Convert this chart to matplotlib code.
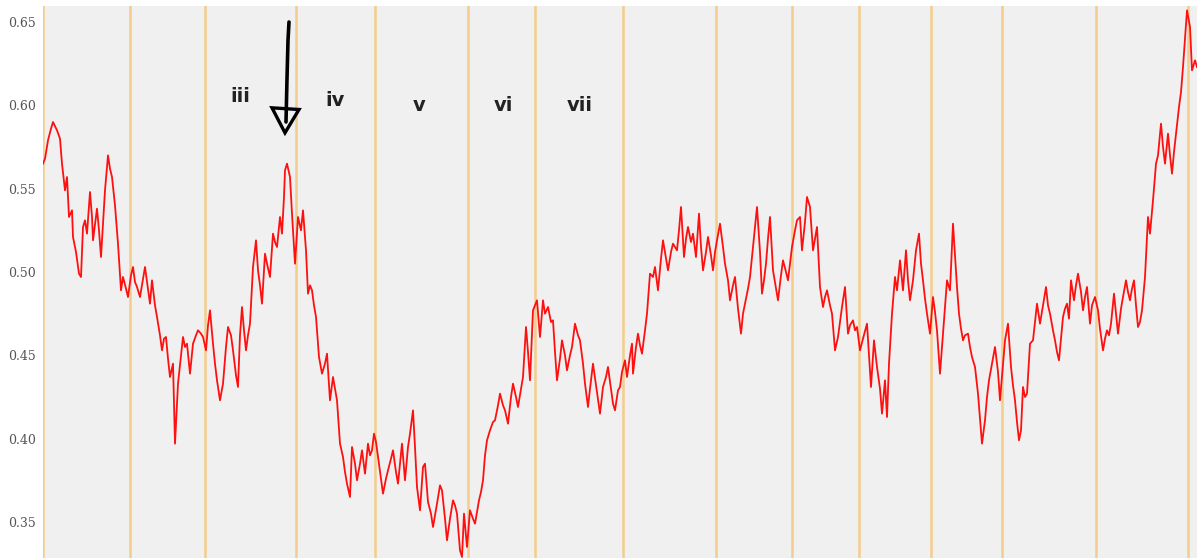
import matplotlib
matplotlib.use("Agg")
import matplotlib.pyplot as plt
from matplotlib.patches import Polygon

# sample index and ratio values
t = [43, 45, 48, 51, 53, 57, 60, 62, 65, 67, 69, 72, 73, 76, 79, 81, 83, 85, 87, 90,
     92, 93, 97, 99, 101, 105, 108, 110, 112, 115, 117, 118, 121, 123, 126, 128, 131, 133, 135, 137,
     140, 143, 145, 148, 150, 152, 155, 157, 160, 162, 164, 166, 168, 170, 173, 175, 178, 181, 183, 185,
     187, 190, 193, 196, 198, 201, 203, 206, 208, 210, 213, 215, 217, 220, 223, 226, 228, 231, 233, 236,
     238, 240, 242, 244, 246, 248, 250, 253, 256, 258, 260, 262, 265, 267, 270, 273, 275, 277, 280, 282,
     284, 285, 287, 290, 292, 295, 298, 301, 303, 306, 308, 310, 312, 314, 316, 319, 322, 325, 327, 330,
     333, 335, 337, 340, 343, 345, 347, 350, 352, 355, 357, 360, 362, 365, 368, 370, 372, 374, 376, 378,
     381, 383, 386, 388, 391, 393, 396, 398, 400, 402, 405, 408, 410, 413, 415, 417, 420, 423, 425, 428,
     431, 433, 437, 440, 442, 445, 447, 450, 453, 455, 457, 460, 462, 464, 467, 470, 473, 475, 479, 481,
     483, 485, 487, 490, 493, 495, 498, 500, 503, 505, 508, 511, 513, 516, 518, 521, 523, 526, 528, 530,
     533, 535, 537, 540, 543, 545, 548, 551, 553, 555, 557, 560, 562, 565, 567, 570, 572, 575, 578, 580,
     583, 585, 588, 590, 593, 597, 600, 603, 606, 608, 611, 613, 615, 618, 620, 622, 625, 627, 630, 632,
     633, 636, 638, 640, 642, 645, 647, 650, 653, 655, 658, 661, 663, 666, 668, 671, 673, 677, 679, 681,
     684, 686, 688, 691, 693, 696, 699, 701, 703, 706, 708, 711, 713, 715, 717, 720, 723, 725, 728, 730,
     733, 735, 738, 741, 743, 745, 748, 750, 753, 757, 760, 762, 764, 766, 768, 770, 773, 776, 778, 781,
     783, 786, 788, 790, 792, 795, 797, 800, 802, 805, 807, 810, 813, 815, 817, 820, 823, 825, 827, 830,
     832, 835, 838, 840, 842, 845, 848, 850, 853, 855, 857, 860, 863, 867, 869, 871, 874, 877, 880, 882,
     885, 887, 889, 892, 895, 897, 900, 903, 906, 908, 910, 913, 916, 919, 921, 923, 925, 927, 930, 933,
     935, 937, 940, 942, 944, 947, 950, 953, 955, 957, 959, 961, 963, 965, 968, 970, 972, 975, 978, 980,
     982, 985, 987, 989, 992, 995, 998, 1000, 1003, 1005, 1008, 1011, 1013, 1015, 1017, 1019, 1021, 1023, 1025, 1027,
     1030, 1033, 1035, 1037, 1040, 1043, 1046, 1048, 1050, 1053, 1055, 1057, 1059, 1061, 1063, 1065, 1067, 1069, 1071, 1074,
     1076, 1078, 1081, 1083, 1085, 1087, 1090, 1092, 1095, 1098, 1100, 1103, 1105, 1107, 1109, 1111, 1114, 1116, 1118, 1121,
     1123, 1126, 1128, 1130, 1132, 1134, 1136, 1138, 1140, 1142, 1145, 1148, 1150, 1153, 1156, 1158, 1161, 1163, 1165, 1168,
     1170, 1172, 1174, 1176, 1179, 1181, 1183, 1185, 1187, 1190, 1192, 1195, 1197]

ratio = [0.565, 0.568, 0.579, 0.586, 0.590, 0.585, 0.580, 0.565, 0.549, 0.557, 0.533, 0.537, 0.521, 0.512, 0.499, 0.497, 0.527, 0.531, 0.523, 0.548,
         0.533, 0.519, 0.538, 0.525, 0.509, 0.549, 0.570, 0.562, 0.557, 0.540, 0.525, 0.517, 0.489, 0.497, 0.490, 0.485, 0.498, 0.503, 0.494, 0.491,
         0.485, 0.496, 0.503, 0.490, 0.481, 0.495, 0.480, 0.473, 0.462, 0.453, 0.460, 0.461, 0.448, 0.437, 0.445, 0.397, 0.433, 0.450, 0.461, 0.455,
         0.457, 0.439, 0.457, 0.462, 0.465, 0.463, 0.461, 0.453, 0.468, 0.477, 0.457, 0.445, 0.435, 0.423, 0.433, 0.455, 0.467, 0.462, 0.453, 0.438,
         0.431, 0.462, 0.479, 0.465, 0.453, 0.462, 0.469, 0.503, 0.519, 0.501, 0.492, 0.481, 0.511, 0.505, 0.497, 0.523, 0.518, 0.515, 0.533, 0.523,
         0.545, 0.561, 0.565, 0.557, 0.535, 0.505, 0.533, 0.525, 0.537, 0.513, 0.487, 0.492, 0.489, 0.480, 0.473, 0.449, 0.439, 0.445, 0.451, 0.423,
         0.437, 0.430, 0.423, 0.397, 0.389, 0.380, 0.373, 0.365, 0.395, 0.385, 0.375, 0.385, 0.393, 0.379, 0.397, 0.390, 0.393, 0.403, 0.398, 0.389,
         0.375, 0.367, 0.376, 0.381, 0.388, 0.393, 0.380, 0.373, 0.385, 0.397, 0.375, 0.395, 0.403, 0.417, 0.395, 0.371, 0.357, 0.383, 0.385, 0.362,
         0.355, 0.347, 0.361, 0.372, 0.369, 0.352, 0.339, 0.352, 0.363, 0.360, 0.355, 0.333, 0.329, 0.355, 0.335, 0.357, 0.352, 0.349, 0.363, 0.368,
         0.375, 0.390, 0.399, 0.405, 0.410, 0.411, 0.420, 0.427, 0.420, 0.417, 0.409, 0.425, 0.433, 0.425, 0.419, 0.430, 0.437, 0.467, 0.452, 0.435,
         0.477, 0.480, 0.483, 0.461, 0.483, 0.475, 0.479, 0.470, 0.471, 0.452, 0.435, 0.448, 0.459, 0.450, 0.441, 0.450, 0.455, 0.469, 0.462, 0.459,
         0.445, 0.433, 0.419, 0.430, 0.445, 0.428, 0.415, 0.431, 0.437, 0.443, 0.430, 0.421, 0.417, 0.429, 0.431, 0.440, 0.447, 0.437, 0.450, 0.457,
         0.439, 0.455, 0.463, 0.456, 0.451, 0.465, 0.475, 0.499, 0.497, 0.503, 0.489, 0.508, 0.519, 0.508, 0.501, 0.512, 0.517, 0.513, 0.525, 0.539,
         0.509, 0.520, 0.527, 0.518, 0.523, 0.509, 0.535, 0.515, 0.501, 0.512, 0.521, 0.510, 0.501, 0.512, 0.519, 0.529, 0.515, 0.505, 0.495, 0.483,
         0.492, 0.497, 0.478, 0.463, 0.475, 0.481, 0.490, 0.497, 0.515, 0.539, 0.512, 0.487, 0.495, 0.505, 0.520, 0.533, 0.501, 0.490, 0.483, 0.498,
         0.507, 0.500, 0.495, 0.505, 0.515, 0.525, 0.531, 0.533, 0.513, 0.530, 0.545, 0.539, 0.513, 0.520, 0.527, 0.491, 0.479, 0.485, 0.489, 0.480,
         0.475, 0.453, 0.461, 0.470, 0.479, 0.491, 0.463, 0.468, 0.471, 0.465, 0.467, 0.453, 0.460, 0.469, 0.450, 0.431, 0.459, 0.443, 0.430, 0.415,
         0.435, 0.413, 0.445, 0.475, 0.497, 0.489, 0.507, 0.489, 0.513, 0.495, 0.483, 0.495, 0.513, 0.523, 0.505, 0.495, 0.484, 0.475, 0.463, 0.485,
         0.476, 0.465, 0.439, 0.455, 0.471, 0.495, 0.489, 0.529, 0.510, 0.491, 0.475, 0.466, 0.459, 0.462, 0.463, 0.455, 0.449, 0.443, 0.427, 0.412,
         0.397, 0.411, 0.425, 0.435, 0.445, 0.455, 0.440, 0.423, 0.445, 0.459, 0.469, 0.443, 0.432, 0.423, 0.410, 0.399, 0.405, 0.431, 0.425, 0.427,
         0.457, 0.459, 0.470, 0.481, 0.469, 0.480, 0.491, 0.480, 0.475, 0.465, 0.459, 0.452, 0.447, 0.460, 0.473, 0.478, 0.481, 0.472, 0.495, 0.483,
         0.492, 0.499, 0.488, 0.477, 0.485, 0.491, 0.469, 0.480, 0.485, 0.477, 0.466, 0.453, 0.460, 0.465, 0.462, 0.469, 0.487, 0.475, 0.463, 0.478,
         0.485, 0.495, 0.488, 0.483, 0.490, 0.495, 0.480, 0.467, 0.470, 0.477, 0.497, 0.533, 0.523, 0.543, 0.565, 0.570, 0.589, 0.575, 0.565, 0.583,
         0.570, 0.559, 0.572, 0.583, 0.599, 0.608, 0.623, 0.640, 0.657, 0.647, 0.621, 0.627, 0.623]

# session boundaries
sessions = [43, 130, 205, 296, 375, 468, 535, 623, 716, 792, 859, 931, 1002, 1096, 1188]

# wave labels
wave_labels = ["iii", "iv", "v", "vi", "vii"]
wave_x = [240, 335, 419, 503, 580]
wave_y = [0.605, 0.603, 0.600, 0.600, 0.600]

yticks = [0.35, 0.40, 0.45, 0.50, 0.55, 0.60, 0.65]

fig = plt.figure(figsize=(11.97, 5.58), dpi=100)
ax = fig.add_axes([43 / 1197, 0, 1 - 43 / 1197, 552 / 558])
ax.set_facecolor("#f0f0f0")

for s in sessions:
    ax.axvline(s, color="#f4cd8c", lw=1.8, zorder=1)

ax.plot(t, ratio, color="#ff1010", lw=1.3, zorder=3)

for lab, x, y in zip(wave_labels, wave_x, wave_y):
    ax.text(x, y, lab, fontsize=14, fontweight="bold", color="#222222",
            ha="center", va="center", zorder=4)

# hand-drawn arrow pointing at the wave iii top
window = [i for i in range(len(t)) if 260 <= t[i] <= 300]
peak = max(window, key=lambda i: ratio[i])
px, py = t[peak] - 1, ratio[peak]
ax.plot([px + 3, px + 2, px + 1, px], [0.650, 0.639, 0.616, py + 0.025],
        color="black", lw=2.6, solid_capstyle="round", zorder=5)
head = Polygon([[px - 14, py + 0.0335], [px + 13, py + 0.0325], [px - 1, py + 0.0185]],
               closed=True, fill=False, edgecolor="black", lw=2.4, zorder=5)
ax.add_patch(head)

ax.set_xlim(43, 1197)
ax.set_ylim(0.3284, 0.6596)
ax.set_xticks([])
ax.set_yticks(yticks)
ax.set_yticklabels(["%.2f" % v for v in yticks], fontsize=9, family="DejaVu Serif", color="#555555")
ax.tick_params(axis="y", length=0, pad=5)
for sp in ax.spines.values():
    sp.set_visible(False)

fig.savefig("out.png", dpi=100, facecolor="white")
